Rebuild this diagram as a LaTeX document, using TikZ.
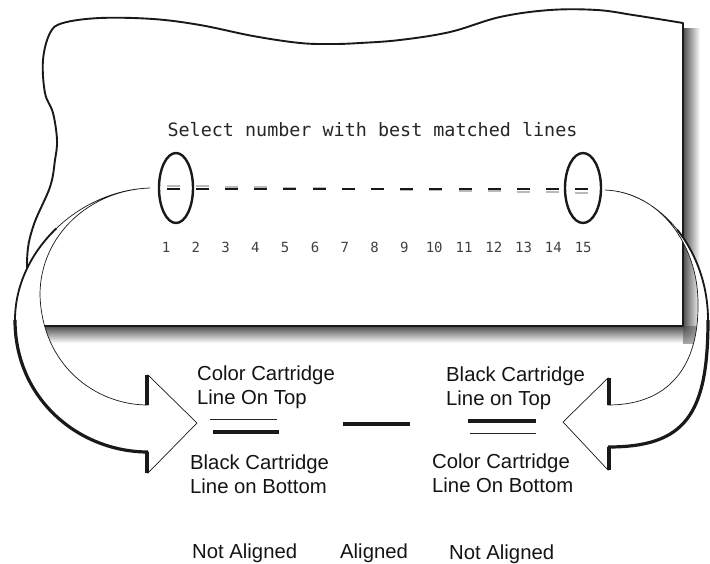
\documentclass[tikz,border=0pt]{standalone}
\usepackage{fontspec}
\setmainfont{Liberation Sans}
\newfontfamily\lcdfont{DejaVu Sans Mono}
\begin{document}
\begin{tikzpicture}[x=1pt,y=-1pt,
  paperline/.style={line width=1.9pt, line join=round, draw=black!90},
  arrowline/.style={line width=0.7pt, line join=miter, draw=black!90},
  heavy/.style={line width=3.2pt, draw=black!90},
  medium/.style={line width=1.8pt, draw=black!90},
  thinbar/.style={line width=1pt, draw=black!85},
  thickbar/.style={line width=3.6pt, draw=black!90},
  lbl/.style={font=\fontsize{20.3}{24}\selectfont, align=left, inner sep=0pt, anchor=base west, text=black!92},
  numlbl/.style={font=\lcdfont\fontsize{14}{14}\selectfont, inner sep=0pt, anchor=base, text=black!75},
  ring/.style={line width=2.4pt, draw=black!90}]
\useasboundingbox (0,0) rectangle (710,563);
\fill[white] (0,0) rectangle (710,563);

% paper shadow
\shade[left color=black!70, right color=white] (683,28) rectangle (700,326);
\shade[top color=black!70, bottom color=white] (40,326) rectangle (683,343);
\begin{scope}
  \clip (683,326) rectangle (700,343);
  \shade[inner color=black!70, outer color=white] (683,326) circle (34);
\end{scope}

% paper sheet
\path[fill=white, paperline] plot[smooth, tension=0.6] coordinates {(30,326) (27,262) (33,227) (50,187) (55,160) (57,140) (53,113) (45,93) (43,60) (50,33) (63,23) (100,18) (153,19) (200,25) (253,36) (300,43) (333,44) (360,43) (400,40) (450,32) (500,17) (550,10) (597,10) (633,15) (683,23)} -- (683,326) -- cycle;

% title
\node[font=\lcdfont\fontsize{18.4}{20}\selectfont, inner sep=0pt, anchor=base, text=black!85] (title) at (372.5,136) {Select number with best matched lines};

% dashes
\foreach \n in {1,...,15}{
  \pgfmathsetmacro\xa{173.3+29.17*(\n-1)-6.5}
  \pgfmathsetmacro\xb{173.3+29.17*(\n-1)+6.5}
  \pgfmathsetmacro\yg{189-(8-\n)*0.5}
  \draw[gray!55, line width=2pt] (\xa,\yg) -- (\xb,\yg);
  \draw[black!90, line width=2.3pt] (\xa,189) -- (\xb,189);
}

% numbers
\foreach \n in {1,...,15}{
  \pgfmathsetmacro\xn{166+29.8*(\n-1)}
  \node[numlbl] (num\n) at (\xn,252) {\n};
}

% rings
\draw[ring] (176,188) ellipse [x radius=17, y radius=35];
\draw[ring] (583,188) ellipse [x radius=18, y radius=35];

% left arrow
\path[fill=white, arrowline] (150,188) .. controls (80,190) and (15,250) .. (15,320)
  .. controls (15,400) and (80,452) .. (148,452) -- (148,473) -- (197,423) -- (148,375) -- (148,405)
  .. controls (95,405) and (42,365) .. (40,295) .. controls (40,235) and (90,190) .. (150,188) -- cycle;
\draw[medium] (56.25,228.5) .. controls (31.25,252.5) and (15,285) .. (15,320);
\draw[heavy] (15,320) .. controls (15,400) and (80,452) .. (148,452);
\draw[thickbar] (147,452) -- (147,473);
\draw[thickbar] (147,375) -- (147,405);

% right arrow
\path[fill=white, arrowline] (605,190) .. controls (660,192) and (708,250) .. (708,320)
  .. controls (708,415) and (685,447) .. (608,447) -- (608,470) -- (563,422) -- (608,378) -- (608,405)
  .. controls (670,405) and (699,365) .. (698,303) .. controls (698,245) and (660,192) .. (605,190) -- cycle;
\draw[medium] (677.1,229.5) .. controls (696,253) and (708,285) .. (708,320);
\draw[heavy] (708,320) .. controls (708,415) and (685,447) .. (608,447);
\draw[thickbar] (609,447) -- (609,470);
\draw[thickbar] (609,378) -- (609,405);

% lower labels (base anchor = last line)
\node[lbl] (ctop) at (197,404) {Color Cartridge\\Line On Top};
\node[lbl] (bbot) at (190,493) {Black Cartridge\\Line on Bottom};
\node[lbl] (btop) at (446,405) {Black Cartridge\\Line on Top};
\node[lbl] (cbot) at (432,492) {Color Cartridge\\Line On Bottom};
\node[lbl] (nal) at (192,558) {Not Aligned};
\node[lbl] (al) at (340,558) {Aligned};
\node[lbl] (nar) at (449,559) {Not Aligned};

% sample bars
\draw[thinbar] (210,419) -- (277,419);
\draw[thickbar] (213,432) -- (279,432);
\draw[thickbar] (343,424) -- (410,424);
\draw[thickbar] (468,421) -- (536,421);
\draw[thinbar] (470,433) -- (536,433);
\end{tikzpicture}
\end{document}
